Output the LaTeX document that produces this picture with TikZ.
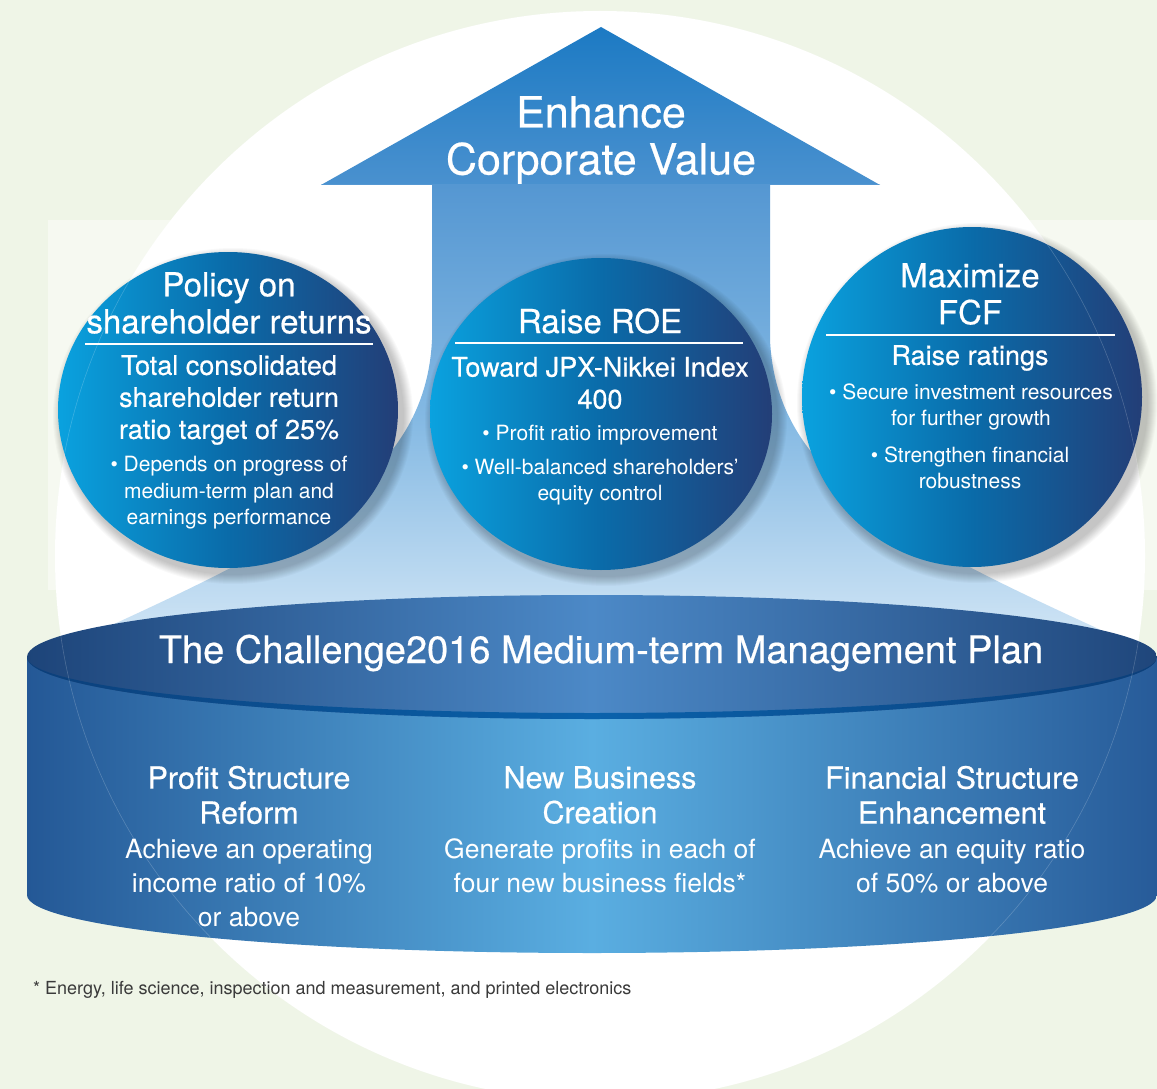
\documentclass[tikz,border=0pt]{standalone}
\usepackage{fontspec}
\setmainfont{TeX Gyre Heros}
\newfontfamily\medfont{TeX Gyre Heros}[FakeBold=0.5]
\definecolor{bggreen}{HTML}{EFF5E7}
\definecolor{arrowA}{HTML}{1A79C3}
\definecolor{arrowB}{HTML}{4A91CF}
\definecolor{arrowC}{HTML}{5597D2}
\definecolor{arrowD}{HTML}{84B9E3}
\definecolor{arrowE}{HTML}{D4E7F6}
\definecolor{ballL}{HTML}{0AA2DF}
\definecolor{ballM}{HTML}{0A6BA9}
\definecolor{ballR}{HTML}{233E77}
\definecolor{cylL}{HTML}{245896}
\definecolor{cylM}{HTML}{5AAEE1}
\definecolor{cylR}{HTML}{275B99}
\definecolor{topL}{HTML}{1D4479}
\definecolor{topM}{HTML}{4C89C7}
\definecolor{topR}{HTML}{1F467B}
\definecolor{rimL}{HTML}{0B3F7A}
\definecolor{rimM}{HTML}{0A62AC}
\definecolor{footgray}{HTML}{3A3A3A}
\tikzset{
  txt/.style={text=white, align=center, inner sep=0pt},
  headtxt/.style={txt, font=\medfont\fontsize{33}{37}\selectfont},
  subtxt/.style={txt, font=\medfont\fontsize{27}{32}\selectfont},
  bultxt/.style={txt, font=\fontsize{21}{26.5}\selectfont},
  colhead/.style={txt, font=\medfont\fontsize{30.5}{35}\selectfont},
  colbody/.style={txt, font=\fontsize{26.5}{34}\selectfont},
  divider/.style={white, line width=1.6pt},
}
\begin{document}
\begin{tikzpicture}[x=1pt,y=-1pt]
\useasboundingbox (0,0) rectangle (1157,1089);
% backdrop
\fill[bggreen] (0,0) rectangle (1157,1089);
\fill[white] (600,556) circle [radius=545];
\fill[white,opacity=0.45] (48,220) rectangle (1157,590);

% upward arrow with flared foot
\begin{scope}
  \clip (601,27) -- (880,185) -- (770,185) -- (770,340)
    .. controls (777,480) and (902,540) .. (1145,650) -- (57,650)
    .. controls (300,540) and (425,480) .. (432,340) -- (432,185)
    -- (321,185) -- cycle;
  \shade[top color=arrowA, bottom color=arrowB] (300,20) rectangle (900,185);
  \shade[top color=arrowC, bottom color=arrowE, middle color=arrowD] (0,185) rectangle (1157,650);
\end{scope}
\node[txt, font=\medfont\fontsize{43}{47}\selectfont] (goal) at (601,140) {Enhance\\Corporate Value};

% cylinder
\shade[left color=cylL, right color=cylR, middle color=cylM]
  (27,657) -- (27,895) arc[start angle=180, end angle=0, x radius=565, y radius=58] -- (1157,657) -- cycle;
\shade[left color=topL, right color=topR, middle color=topM]
  (592,657) ellipse [x radius=565, y radius=62];
\shade[left color=rimL, right color=rimL, middle color=rimM]
  (27,657) arc[start angle=180, end angle=0, x radius=565, y radius=62]
  arc[start angle=0, end angle=180, x radius=565, y radius=56] -- cycle;

% three balls with soft shadows
\foreach \cx/\cy/\rx/\ry in {228/410/170/158, 601/414/171/156, 972/397/170/170}{
  \foreach \i in {1,...,10}{
    \fill[black, opacity=0.022] (\cx+5,\cy+6) ellipse [x radius=\rx+\i, y radius=\ry+\i];
  }
  \shade[left color=ballL, right color=ballR, middle color=ballM]
    (\cx,\cy) ellipse [x radius=\rx, y radius=\ry];
}

% left ball
\node[headtxt] (polh) at (229,303) {Policy on\\shareholder returns};
\coordinate (polL) at (85,344);
\coordinate (polR) at (373,344);
\draw[divider] (polL) -- (polR);
\node[subtxt] (pols) at (229,400) {Total consolidated\\shareholder return\\ratio target of 25\%};
\node[bultxt] (polb) at (229,493) {\textbullet\ Depends on progress of\\medium-term plan and\\earnings performance};

% middle ball
\node[headtxt] (roeh) at (600,321) {Raise ROE};
\coordinate (roeL) at (455,343);
\coordinate (roeR) at (743,343);
\draw[divider] (roeL) -- (roeR);
\node[subtxt] (roes) at (600,383) {Toward JPX-Nikkei Index\\400};
\node[bultxt] (roeb1) at (600,435) {\textbullet\ Profit ratio improvement};
\node[bultxt] (roeb2) at (600,482) {\textbullet\ Well-balanced shareholders’\\equity control};

% right ball
\node[headtxt] (fcfh) at (970,294) {Maximize\\FCF};
\coordinate (fcfL) at (826,335);
\coordinate (fcfR) at (1115,335);
\draw[divider] (fcfL) -- (fcfR);
\node[subtxt] (fcfs) at (970,358) {Raise ratings};
\node[bultxt] (fcfb1) at (971,407) {\textbullet\ Secure investment resources\\for further growth};
\node[bultxt] (fcfb2) at (970,468) {\textbullet\ Strengthen financial\\robustness};

% cylinder texts
\node[txt, font=\medfont\fontsize{38}{42}\selectfont] (plan) at (601,653) {The Challenge2016 Medium-term Management Plan};
\node[colhead] (c1h) at (249,795) {Profit Structure\\Reform};
\node[colbody] (c1b) at (249,883) {Achieve an operating\\income ratio of 10\%\\or above};
\node[colhead] (c2h) at (600,795) {New Business\\Creation};
\node[colbody] (c2b) at (600,866) {Generate profits in each of\\four new business fields*};
\node[colhead] (c3h) at (952,795) {Financial Structure\\Enhancement};
\node[colbody] (c3b) at (952,866) {Achieve an equity ratio\\of 50\% or above};

% footnote
\node[anchor=west, inner sep=0pt, text=footgray, font=\fontsize{18}{21}\selectfont] (foot) at (33,990)
  {* Energy, life science, inspection and measurement, and printed electronics};

% faint outline of the backdrop disc over the artwork
\draw[white, opacity=0.2, line width=0.6pt] (600,556) circle [radius=545];
\end{tikzpicture}
\end{document}
